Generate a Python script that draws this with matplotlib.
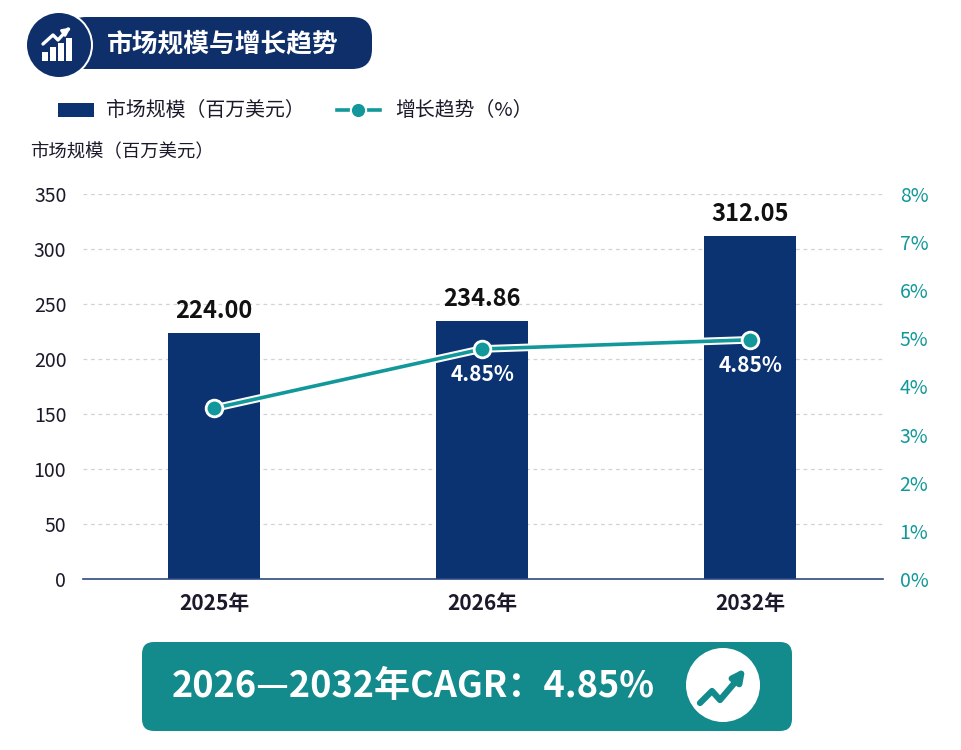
import matplotlib
matplotlib.use("Agg")
import matplotlib.pyplot as plt
import matplotlib.patheffects as pe
from matplotlib.patches import FancyBboxPatch, Circle, Rectangle
import numpy as np

plt.rcParams['font.family'] = ['Noto Sans CJK SC', 'DejaVu Sans']

# ---- data ----
categories = ["2025年", "2026年", "2032年"]
market_size = [224.00, 234.86, 312.05]
bar_labels = ["224.00", "234.86", "312.05"]
growth = [3.55, 4.78, 4.97]
growth_labels = ["", "4.85%", "4.85%"]
left_ticks = [0, 50, 100, 150, 200, 250, 300, 350]
right_ticks = [0, 1, 2, 3, 4, 5, 6, 7, 8]
right_tick_labels = ["0%", "1%", "2%", "3%", "4%", "5%", "6%", "7%", "8%"]
title = "市场规模与增长趋势"
legend_bar = "市场规模（百万美元）"
legend_line = "增长趋势（%）"
ylabel = "市场规模（百万美元）"
banner_text = "2026—2032年CAGR：4.85%"

NAVY = "#0b3372"
TEAL = "#12989a"
BANNER = "#138a8c"
W, H = 962, 750

fig = plt.figure(figsize=(W / 100, H / 100), dpi=100)
fig.patch.set_facecolor("white")

# main axes
ax = fig.add_axes([83 / W, 1 - 579 / H, (883 - 83) / W, (579 - 194) / H])
x = np.arange(len(categories))
ax.bar(x, market_size, width=0.345, color=NAVY, zorder=2)
ax.set_xlim(-0.49, 2.496)
ax.set_ylim(0, 350)
ax.set_yticks(left_ticks)
ax.set_yticklabels([str(t) for t in left_ticks], fontsize=14, color="#1a1a2a")
ax.set_xticks(x)
ax.set_xticklabels(categories, fontsize=15, fontweight="bold", color="#1a1a2a")
ax.tick_params(axis="both", length=0)
ax.tick_params(axis="y", pad=12)
ax.tick_params(axis="x", pad=10)
for s in ["top", "right", "left"]:
    ax.spines[s].set_visible(False)
ax.spines["bottom"].set_color("#2c4a80")
ax.spines["bottom"].set_linewidth(1.2)
ax.grid(axis="y", color="#cfd3da", linestyle=(0, (3, 3)), linewidth=0.9, zorder=0)
ax.set_axisbelow(True)
for xi, v, lab in zip(x, market_size, bar_labels):
    ax.annotate(lab, (xi, v), xytext=(0, 7), textcoords="offset points",
                ha="center", va="bottom", fontsize=17, fontweight="bold", color="#111111")

# secondary axis
ax2 = ax.twinx()
ax2.set_ylim(0, 8)
ax2.set_yticks(right_ticks)
ax2.set_yticklabels(right_tick_labels, fontsize=14, color=TEAL)
ax2.tick_params(axis="y", length=0, pad=12)
for s in ["top", "right", "left", "bottom"]:
    ax2.spines[s].set_visible(False)
ax2.plot(x, growth, color=TEAL, linewidth=2.6, zorder=3,
         path_effects=[pe.Stroke(linewidth=5.5, foreground="white"), pe.Normal()])
ax2.plot(x, growth, linestyle="none", marker="o", markersize=12,
         markerfacecolor=TEAL, markeredgecolor="white", markeredgewidth=2, zorder=4)
for xi, g, lab in zip(x, growth, growth_labels):
    if lab:
        ax2.annotate(lab, (xi, g), xytext=(0, -11), textcoords="offset points",
                     ha="center", va="top", fontsize=15, fontweight="bold", color="white")

# overlay for decorations in pixel coordinates
ov = fig.add_axes([0, 0, 1, 1], zorder=-1)
ov.set_xlim(0, W)
ov.set_ylim(H, 0)
ov.axis("off")

# title pill
PILL = "#0f2f6b"
ov.add_patch(FancyBboxPatch((66, 17), 306, 52, boxstyle="round,pad=0,rounding_size=20",
                            facecolor=PILL, edgecolor="none"))
ov.add_patch(Circle((59, 45), 34, facecolor="white", edgecolor="none"))
ov.add_patch(Circle((59, 45), 32, facecolor=PILL, edgecolor="none"))
# icon bars
for bx, top in [(42, 52), (50, 47), (58, 43), (66, 38)]:
    ov.add_patch(Rectangle((bx, top), 6, 61 - top, facecolor="white", edgecolor="none"))
ov.plot([43, 53, 58, 68], [44, 35, 40, 29], color="white", linewidth=2.4,
        solid_joinstyle="round", solid_capstyle="round")
ov.annotate("", xy=(73, 26), xytext=(66, 31),
            arrowprops=dict(arrowstyle="-|>", color="white", lw=2, mutation_scale=11))
ov.text(107, 44, title, fontsize=18.5, fontweight="bold", color="white", va="center", ha="left")

# legend
ov.add_patch(Rectangle((58, 103), 36, 14, facecolor=NAVY, edgecolor="none"))
ov.text(106, 110, legend_bar, fontsize=14.3, color="#1a1a2a", va="center", ha="left")
ov.plot([337, 380], [110, 110], color=TEAL, linewidth=2.6)
ov.plot([358], [110], marker="o", markersize=11, color=TEAL, markeredgecolor="white", markeredgewidth=1.5)
ov.text(395, 110, legend_line, fontsize=14.3, color="#1a1a2a", va="center", ha="left")

# y label
ov.text(30, 152, ylabel, fontsize=13.2, color="#1a1a2a", va="center", ha="left")

# banner
ov.add_patch(FancyBboxPatch((142, 642), 650, 89, boxstyle="round,pad=0,rounding_size=12",
                            facecolor=BANNER, edgecolor="none"))
ov.text(172, 687, banner_text, fontsize=26, fontweight="bold", color="white", va="center", ha="left")
ov.add_patch(Circle((723, 685), 37, facecolor="white", edgecolor="none"))
ov.plot([700, 712, 720, 737], [703, 691, 700, 680], color=BANNER, linewidth=4.5,
        solid_capstyle="round", solid_joinstyle="round")
ov.annotate("", xy=(747, 666), xytext=(735, 682),
            arrowprops=dict(arrowstyle="-|>", color=BANNER, lw=4.5, mutation_scale=17))

fig.savefig("out.png", dpi=100, facecolor="white")
